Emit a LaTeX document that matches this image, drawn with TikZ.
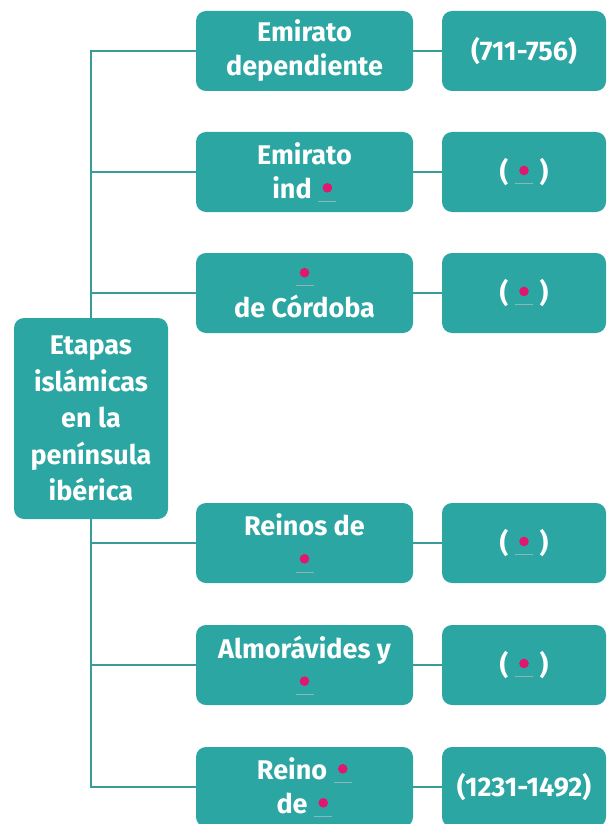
\documentclass[tikz,border=0pt]{standalone}
\usepackage{fontspec}
\setmainfont{Fira Sans}
\usetikzlibrary{backgrounds}
\definecolor{boxc}{HTML}{2BA6A3}
\definecolor{linec}{HTML}{3A9C99}
\definecolor{dotc}{HTML}{E0166F}
\definecolor{ulc}{HTML}{8FB5BA}
\newcommand\blank{\tikz[baseline=0pt,x=1pt,y=1pt]{\fill[dotc](0,11) circle (4.8); \draw[ulc,line width=0.5pt](-9,-2)--(9,-2);}}
\tikzset{
  box/.style={draw=none,fill=boxc,rounded corners=10pt,text=white,align=center,
    font=\fontsize{27}{34}\bfseries\selectfont,inner sep=0pt},
  mid/.style={box,minimum width=217pt,minimum height=80pt},
  rgt/.style={box,minimum width=164pt,minimum height=80pt},
  conn/.style={draw=linec,line width=2.2pt}
}
\begin{document}
\begin{tikzpicture}[x=1pt,y=-1pt]
\useasboundingbox (0,0) rectangle (608,824);
\node[box,minimum width=154pt,minimum height=201pt,font=\fontsize{27}{36.5}\bfseries\selectfont] (main) at (91,418.5) {Etapas\\islámicas\\en la\\península\\ibérica};
\node[mid] (m1) at (304.5,51) {Emirato\\dependiente};
\node[mid] (m2) at (304.5,172) {Emirato\\ind \blank};
\node[mid] (m3) at (304.5,293) {\blank\\de Córdoba};
\node[mid] (m4) at (304.5,543) {Reinos de\\\blank};
\node[mid] (m5) at (304.5,665) {Almorávides y\\\blank};
\node[mid] (m6) at (304.5,787) {Reino \blank\\de \blank};
\node[rgt] (r1) at (524,51) {(711-756)};
\node[rgt] (r2) at (524,172) {( \blank\ )};
\node[rgt] (r3) at (524,293) {( \blank\ )};
\node[rgt] (r4) at (524,543) {( \blank\ )};
\node[rgt] (r5) at (524,665) {( \blank\ )};
\node[rgt] (r6) at (524,787) {(1231-1492)};
\begin{scope}[on background layer]
\draw[conn] (main.north) -- (main.north |- m1) -- (m1.west);
\draw[conn] (main.north |- m2) -- (m2.west);
\draw[conn] (main.north |- m3) -- (m3.west);
\draw[conn] (main.south) -- (main.south |- m6) -- (m6.west);
\draw[conn] (main.south |- m4) -- (m4.west);
\draw[conn] (main.south |- m5) -- (m5.west);
\foreach \i in {1,...,6}{\draw[conn] (m\i.east) -- (r\i.west);}
\end{scope}
\end{tikzpicture}
\end{document}
